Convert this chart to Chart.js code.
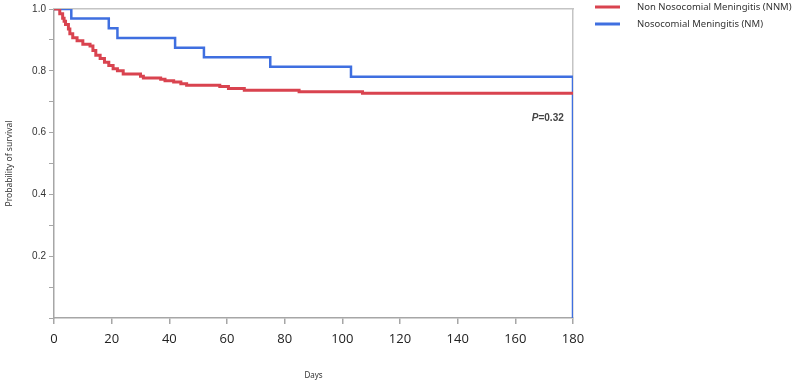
<!DOCTYPE html>
<html lang="en">
<head>
    <meta charset="UTF-8">
    <title>Survival curves</title>
    <script src="https://cdn.jsdelivr.net/npm/chart.js"></script>
    <style>
        body {
            margin: 0;
            background: #fff;
        }
        #chartContainer {
            width: 796px;
            height: 382px;
        }
    </style>
</head>
<body>
    <div id="chartContainer">
        <canvas id="kmChart"></canvas>
    </div>

    <script>
        // Kaplan-Meier steps (day of drop, survival after it)
        const nnmDays = [0, 2, 3, 3.5, 4, 5, 5.5, 6.5, 8, 10, 12.5, 13.5, 14.5, 16, 17.5, 19, 20.5, 22, 24, 30, 31, 37, 38.5, 41.5, 44, 46, 57.5, 60.5, 66, 85, 107, 180];
        const nnmSurv = [1.0, 0.985, 0.970, 0.960, 0.950, 0.935, 0.920, 0.907, 0.897, 0.886, 0.880, 0.866, 0.850, 0.840, 0.828, 0.817, 0.807, 0.800, 0.790, 0.782, 0.777, 0.773, 0.768, 0.764, 0.758, 0.753, 0.749, 0.743, 0.737, 0.732, 0.727, 0.727];
        const nmDays = [0, 6, 19, 22, 42, 52, 75, 103, 180, 180];
        const nmSurv = [1.0, 0.969, 0.938, 0.906, 0.875, 0.844, 0.813, 0.781, 0.781, 0];

        const seriesNames = ['Non Nosocomial Meningitis (NNM)', 'Nosocomial Meningitis (NM)'];
        const seriesColors = ['#d9434f', '#3f6fe0'];
        const xTicks = [0, 20, 40, 60, 80, 100, 120, 140, 160, 180];
        const yLabelled = [0.2, 0.4, 0.6, 0.8, 1.0];
        const pValueText = ['P', '=0.32'];

        const toPoints = (xs, ys) => xs.map((x, i) => ({ x: x, y: ys[i] }));

        // legend drawn beside the plot, P value inside it
        const extrasPlugin = {
            id: 'extras',
            afterDraw(chart) {
                const ctx = chart.ctx;
                ctx.save();
                seriesNames.forEach((name, i) => {
                    const y = 7 + i * 17;
                    ctx.strokeStyle = seriesColors[i];
                    ctx.lineWidth = 3;
                    ctx.beginPath();
                    ctx.moveTo(595, y);
                    ctx.lineTo(620, y);
                    ctx.stroke();
                    ctx.fillStyle = '#333';
                    ctx.font = '9.5px "Noto Sans"';
                    ctx.textBaseline = 'middle';
                    ctx.textAlign = 'left';
                    ctx.fillText(name, 637, y);
                });

                const xs = chart.scales.x;
                const ys = chart.scales.y;
                const px = xs.getPixelForValue(176.8);
                const py = ys.getPixelForValue(0.647);
                ctx.font = 'bold 10px "Liberation Sans"';
                const tail = pValueText[1];
                const tailW = ctx.measureText(tail).width;
                ctx.fillStyle = '#444';
                ctx.textBaseline = 'middle';
                ctx.textAlign = 'right';
                ctx.fillText(tail, px, py);
                ctx.font = 'italic bold 10px "Liberation Sans"';
                ctx.fillText(pValueText[0], px - tailW, py);
                ctx.restore();
            }
        };

        const axisGray = '#a6a6a6';

        new Chart(document.getElementById('kmChart'), {
            type: 'line',
            data: {
                datasets: [
                    {
                        label: seriesNames[0],
                        data: toPoints(nnmDays, nnmSurv),
                        borderColor: seriesColors[0],
                        borderWidth: 3,
                        stepped: 'before',
                        pointRadius: 0,
                        fill: false
                    },
                    {
                        label: seriesNames[1],
                        data: toPoints(nmDays, nmSurv),
                        borderColor: seriesColors[1],
                        borderWidth: 2.5,
                        stepped: 'before',
                        pointRadius: 0,
                        fill: false
                    }
                ]
            },
            options: {
                responsive: true,
                maintainAspectRatio: false,
                animation: false,
                layout: {
                    padding: { top: 6, right: 223, left: 0, bottom: 0 }
                },
                plugins: {
                    legend: { display: false },
                    tooltip: { enabled: false }
                },
                scales: {
                    x: {
                        type: 'linear',
                        min: 0,
                        max: 180,
                        afterBuildTicks: (scale) => {
                            scale.ticks = xTicks.map(v => ({ value: v }));
                        },
                        afterFit: (scale) => { scale.height = 64; },
                        border: { color: axisGray, width: 1.5 },
                        grid: {
                            drawOnChartArea: false,
                            color: axisGray,
                            tickLength: 6,
                            lineWidth: 1.5
                        },
                        ticks: {
                            color: '#222',
                            font: { family: '"Open Sans"', size: 13 },
                            padding: 7,
                            maxRotation: 0
                        },
                        title: {
                            display: true,
                            text: 'Days',
                            color: '#333',
                            font: { family: '"Noto Sans"', size: 8 },
                            padding: { top: 19, bottom: 1 }
                        }
                    },
                    y: {
                        min: 0,
                        max: 1,
                        afterBuildTicks: (scale) => {
                            const t = [];
                            for (let i = 0; i <= 10; i++) t.push({ value: i / 10 });
                            scale.ticks = t;
                        },
                        afterFit: (scale) => { scale.width = 54; },
                        border: { color: axisGray, width: 1.5 },
                        grid: {
                            drawOnChartArea: false,
                            color: axisGray,
                            tickLength: 5,
                            lineWidth: 1
                        },
                        ticks: {
                            color: '#333',
                            font: { family: '"Liberation Sans"', size: 10 },
                            padding: 3,
                            callback: (v) => {
                                const hit = yLabelled.find(l => Math.abs(l - v) < 1e-6);
                                return hit !== undefined ? hit.toFixed(1) : '';
                            }
                        },
                        title: {
                            display: true,
                            text: 'Probability of survival',
                            color: '#333',
                            font: { family: '"Noto Sans"', size: 8.5 },
                            padding: { bottom: 2 }
                        }
                    },
                    xTop: {
                        type: 'linear',
                        position: 'top',
                        min: 0,
                        max: 180,
                        afterFit: (scale) => { scale.height = 0; },
                        border: { color: '#c4c4c4', width: 1.5 },
                        grid: { display: false },
                        ticks: { display: false }
                    },
                    yRight: {
                        position: 'right',
                        min: 0,
                        max: 1,
                        afterFit: (scale) => { scale.width = 0; },
                        border: { color: '#c4c4c4', width: 1.5 },
                        grid: { display: false },
                        ticks: { display: false }
                    }
                }
            },
            plugins: [extrasPlugin]
        });
    </script>
</body>
</html>
